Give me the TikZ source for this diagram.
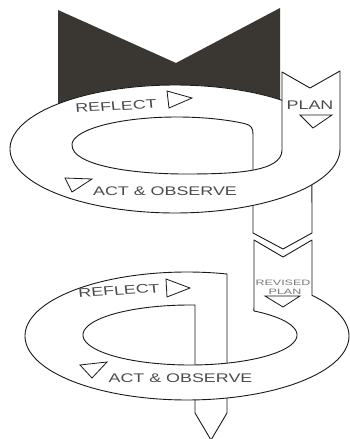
\documentclass[tikz,border=0pt]{standalone}
\usepackage{fontspec}
\setmainfont{Liberation Sans}
\definecolor{darkm}{RGB}{58,54,50}
\definecolor{inkline}{RGB}{25,25,25}
\definecolor{inktext}{RGB}{75,75,75}
\definecolor{inklight}{RGB}{120,120,120}
\begin{document}
\begin{tikzpicture}[x=1pt,y=-1pt,
  edge/.style={line width=0.9pt, draw=inkline, line join=round},
  tri/.style={line width=0.8pt, draw=inkline, line join=miter},
  lbl/.style={font=\fontsize{12.5}{13}\selectfont, text=inktext, xscale=1.43, inner sep=0pt},
  small/.style={font=\fontsize{7.8}{8}\selectfont, text=inklight, xscale=1.6, inner sep=0pt}]
\useasboundingbox (0,0) rectangle (350,439);
\fill[white] (0,0) rectangle (350,439);
% dark M shape
\fill[darkm] (58,10) -- (176,63) -- (280,8) -- (280,150) -- (58,150) -- cycle;
\fill[white] (175,149) ellipse [x radius=165pt, y radius=64pt];
% upper loop: back band (reflect) and descending strip
\path[edge, fill=white] plot[domain=180:34, samples=60] ({175+165*cos(\x)},{149-64*sin(\x)})
  -- (312,233) -- (283,249) -- (253,233) -- (253,134)
  .. controls (253,128) and (251,125) .. (244.5,123.6)
  -- plot[domain=50:180, samples=60] ({177+105*cos(\x)},{145-28*sin(\x)});
% upper loop: front band (plan + act & observe)
\path[edge, fill=white] (72,145) .. controls (72,165) and (130,174) .. (185,174)
  .. controls (235,174) and (282,172) .. (282,150)
  -- (282,72) -- (310,88) -- (340,71) -- (340,149)
  -- plot[domain=0:-180, samples=80] ({175+165*cos(\x)},{149-64*sin(\x)});
% lower loop: back band and descending arrow
\path[edge, fill=white] plot[domain=180:75.7, samples=60] ({187+162*cos(\x)},{336-64*sin(\x)})
  -- (227,413) -- (211,440) -- (195,413) -- (195,305)
  -- plot[domain=87.3:180, samples=60] ({190+107*cos(\x)},{335-30*sin(\x)});
% lower loop: front band (revised plan + act & observe)
\path[edge, fill=white] (83,335) -- plot[domain=180:413.3, samples=90] ({190+107*cos(\x)},{335-30*sin(\x)})
  -- (254,240) -- (283,257) -- (312,240) -- (312,295.3)
  -- plot[domain=39.5:-180, samples=90] ({187+162*cos(\x)},{336-64*sin(\x)});
% triangles
\draw[tri] (167,91) -- (169,108) -- (192,98) -- cycle;
\draw[tri] (300,115) -- (332,115) -- (313,128) -- cycle;
\draw[tri] (65,178) -- (92,179) -- (72,192) -- cycle;
\draw[tri] (166,279) -- (167,297) -- (190,288) -- cycle;
\draw[tri] (265,296) -- (300,296) -- (283,307) -- cycle;
\draw[tri] (80,365) -- (107,362) -- (92,378) -- cycle;
% labels
\node[lbl, rotate=4] (reflA) at (116,106) {REFLECT};
\node[lbl] (planA) at (310,105) {PLAN};
\node[lbl] (actA) at (165,191.5) {ACT \& OBSERVE};
\node[lbl, rotate=4.5] (reflB) at (119,290.5) {REFLECT};
\node[small] (revB) at (283,283) {REVISED};
\node[small] (planB) at (285,292) {PLAN};
\node[lbl] (actB) at (180.5,378) {ACT \& OBSERVE};
\end{tikzpicture}
\end{document}
